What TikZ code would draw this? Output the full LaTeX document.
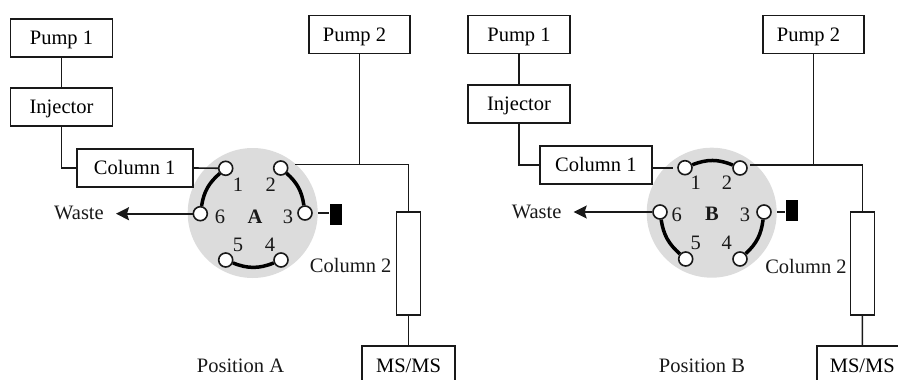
\documentclass[tikz,border=0pt]{standalone}
\usepackage{fontspec}
\setmainfont{Liberation Serif}
\usetikzlibrary{arrows.meta}
\definecolor{discgray}{RGB}{220,220,220}
\definecolor{mydark}{RGB}{25,25,25}
\tikzset{
  box/.style={rectangle, draw=mydark, fill=white, minimum height=38pt,
    inner sep=0pt, text height=15pt, text depth=1.6pt, line width=1.6pt,
    font=\fontsize{20.5}{24}\selectfont},
  disc/.style={circle, fill=discgray, minimum size=130pt, inner sep=0pt},
  port/.style={circle, draw=mydark, fill=white, minimum size=14pt,
    inner sep=0pt, line width=1.6pt},
  plug/.style={rectangle, fill=black, minimum width=12pt, minimum height=21pt, inner sep=0pt},
  txt/.style={inner sep=0pt, text=mydark, font=\fontsize{20.5}{24}\selectfont},
  channel/.style={line width=3.5pt, color=black},
  line/.style={line width=1.6pt, color=mydark},
  arrow/.style={-{Stealth[length=13pt, width=13pt, inset=2pt]}, line width=1.6pt, color=mydark}
}

\begin{document}
\begin{tikzpicture}[x=1pt, y=-1pt]
  \clip (0,0) rectangle (898,380);

  % Position A
  \node[disc] (disca) at (252.7,213) {};
  \node[box, minimum width=102pt] (pumpa1) at (61.5,38) {Pump 1};
  \node[box, minimum width=102pt] (injectora) at (61.5,107) {Injector};
  \node[box, minimum width=116pt] (columna1) at (134.7,168) {Column 1};
  \node[box, minimum width=101pt] (pumpa2) at (359.5,34.5) {Pump 2\hspace*{10pt}};
  \node[box, minimum width=24pt, minimum height=103pt] (columna2) at (408.5,263.5) {};
  \node[box, minimum width=93pt, minimum height=40pt] (msa) at (408.5,366) {MS/MS};
  \node[plug] (pluga) at (335.6,214.5) {};
  \coordinate (teea) at (295,164.5);

  \node[port] (a1) at (225.7,168.3) {};
  \node[port] (a2) at (280.7,168) {};
  \node[port] (a3) at (305,213) {};
  \node[port] (a4) at (281,260) {};
  \node[port] (a5) at (225.7,260) {};
  \node[port] (a6) at (200.3,213.7) {};

  \node[txt] at (238,185) {1};
  \node[txt] at (270.7,185) {2};
  \node[txt] at (288,216.7) {3};
  \node[txt] at (270,245) {4};
  \node[txt] at (238,245) {5};
  \node[txt] at (220,217) {6};
  \node[txt, font=\fontsize{20.5}{24}\selectfont\bfseries] at (255,217) {A};
  \node[txt, inner xsep=12pt] (wastea) at (79,213) {Waste};
  \node[txt] (cola) at (350.7,265) {Column 2};
  \node[txt] (posa) at (240.5,366) {Position A};

  \draw[channel] (a1) to[bend right=20] (a6);
  \draw[channel] (a2) to[bend left=20] (a3);
  \draw[channel] (a5) to[bend right=22] (a4);

  \draw[line] (pumpa1) -- (injectora);
  \draw[line] (injectora.south) |- (columna1.west);
  \draw[line] (columna1.east) -- (a1);
  \draw[line] (pumpa2.south) -- (pumpa2.south |- teea);
  \draw[line] (teea) -| (columna2.north);
  \draw[line] (columna2) -- (msa);
  \draw[line, shorten <=5pt] (a3) -- (a3 -| pluga.west);
  \draw[arrow] (a6.west) -- (a6 -| wastea.east);

  % Position B
  \node[disc] (discb) at (711.7,212.7) {};
  \node[box, minimum width=102pt] (pumpb1) at (519,34.5) {Pump 1};
  \node[box, minimum width=102pt] (injectorb) at (519,104) {Injector};
  \node[box, minimum width=112pt] (columnb1) at (595.8,165) {Column 1};
  \node[box, minimum width=101pt] (pumpb2) at (813.5,34.5) {Pump 2\hspace*{10pt}};
  \node[box, minimum width=24pt, minimum height=103pt] (columnb2) at (862.5,263.5) {};
  \node[box, minimum width=91pt, minimum height=40pt] (msb) at (862.3,366) {MS/MS};
  \node[plug] (plugb) at (791.6,210.5) {};
  \coordinate (teeb) at (750,165);

  \node[port] (b1) at (685,167.7) {};
  \node[port] (b2) at (740,168) {};
  \node[port] (b3) at (764,212) {};
  \node[port] (b4) at (740,259) {};
  \node[port] (b5) at (685.7,259) {};
  \node[port] (b6) at (660,212) {};

  \node[txt] at (695.7,183) {1};
  \node[txt] at (727,183) {2};
  \node[txt] at (745,215) {3};
  \node[txt] at (726.7,242.7) {4};
  \node[txt] at (695.7,243) {5};
  \node[txt] at (676.7,215) {6};
  \node[txt, font=\fontsize{20.5}{24}\selectfont\bfseries] at (712,214) {B};
  \node[txt, inner xsep=12pt] (wasteb) at (536.7,212) {Waste};
  \node[txt] (colb) at (806,266) {Column 2};
  \node[txt] (posb) at (702,366) {Position B};

  \draw[channel] (b1) to[bend left=22] (b2);
  \draw[channel] (b3) to[bend left=20] (b4);
  \draw[channel] (b5) to[bend left=20] (b6);

  \draw[line] (pumpb1) -- (injectorb);
  \draw[line] (injectorb.south) |- (columnb1.west);
  \draw[line, shorten >=4pt] (columnb1.east |- b1) -- (b1);
  \draw[line] (pumpb2.south) -- (pumpb2.south |- teeb);
  \draw[line] (teeb) -| (columnb2.north);
  \draw[line] (columnb2) -- (msb);
  \draw[line, shorten <=5pt] (b3) -- (b3 -| plugb.west);
  \draw[arrow] (b6.west) -- (b6 -| wasteb.east);
\end{tikzpicture}
\end{document}
